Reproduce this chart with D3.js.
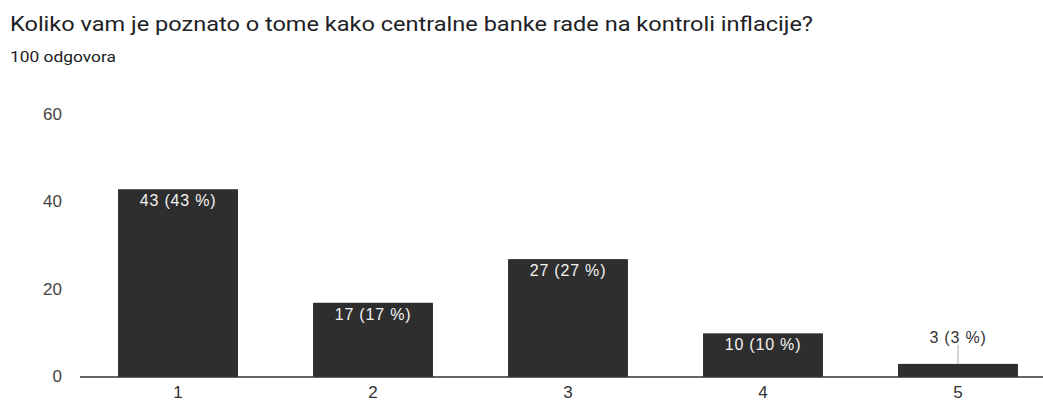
<html lang="hr">
<head>
    <meta charset="UTF-8">
    <title>Koliko vam je poznato</title>
    <script src="https://d3js.org/d3.v7.min.js"></script>
    <style>
        body { margin: 0; background: #fff; }
        svg { display: block; }
    </style>
</head>
<body>
    <script>
        // Chart data
        const categories = ["1", "2", "3", "4", "5"];
        const counts = [43, 17, 27, 10, 3];
        const percents = [43, 17, 27, 10, 3];
        const yTicks = [0, 20, 40, 60];

        const w = 1043;
        const h = 405;
        const labelFont = "'Liberation Sans', Arial, sans-serif";

        const svg = d3.select("body")
                      .append("svg")
                      .attr("width", w)
                      .attr("height", h);

        // Title & subtitle (the source picture is a little stretched horizontally)
        svg.append("text")
           .attr("x", 10)
           .attr("y", 31)
           .attr("font-family", "Roboto, sans-serif")
           .attr("font-size", 21)
           .attr("fill", "#202124")
           .attr("textLength", 803)
           .attr("lengthAdjust", "spacingAndGlyphs")
           .text("Koliko vam je poznato o tome kako centralne banke rade na kontroli inflacije?");

        svg.append("text")
           .attr("x", 10)
           .attr("y", 62)
           .attr("font-family", "Roboto, sans-serif")
           .attr("font-size", 15)
           .attr("fill", "#202124")
           .attr("textLength", 106)
           .attr("lengthAdjust", "spacingAndGlyphs")
           .text("100 odgovora");

        // Scales
        const xScale = d3.scaleBand()
            .domain(categories)
            .range([43, 1093])
            .padding(0.385);

        const yScale = d3.scaleLinear()
            .domain([0, 60])
            .range([377, 115]);

        // Y tick labels (no line)
        const yAxis = d3.axisLeft(yScale).tickValues(yTicks).tickSize(0).tickPadding(0);
        const gy = svg.append("g")
            .attr("transform", "translate(62, -1)")
            .call(yAxis);
        gy.select(".domain").remove();
        gy.selectAll("text")
          .attr("font-family", labelFont)
          .attr("font-size", 17)
          .attr("fill", "#444");

        // Bars
        svg.selectAll("rect.bar")
           .data(counts)
           .enter()
           .append("rect")
           .attr("class", "bar")
           .attr("x", (d, i) => xScale(categories[i]))
           .attr("y", d => yScale(d))
           .attr("width", xScale.bandwidth())
           .attr("height", d => yScale(0) - yScale(d))
           .attr("fill", "#2e2e2e");

        // Baseline
        svg.append("line")
           .attr("x1", 80)
           .attr("x2", w)
           .attr("y1", yScale(0))
           .attr("y2", yScale(0))
           .attr("stroke", "#333")
           .attr("stroke-width", 1.5);

        // X axis labels
        const xAxis = d3.axisBottom(xScale).tickSize(0).tickPadding(0);
        const gx = svg.append("g")
            .attr("transform", `translate(0, ${yScale(0) + 9})`)
            .call(xAxis);
        gx.select(".domain").remove();
        gx.selectAll("text")
          .attr("font-family", labelFont)
          .attr("font-size", 17)
          .attr("fill", "#333");

        // Value labels: inside bar if tall enough, otherwise above with leader line
        counts.forEach((d, i) => {
            const cx = xScale(categories[i]) + xScale.bandwidth() / 2;
            const top = yScale(d);
            const label = `${d} (${percents[i]} %)`;
            const inside = yScale(0) - top > 25;
            if (inside) {
                svg.append("text")
                   .attr("x", cx)
                   .attr("y", top + 17)
                   .attr("text-anchor", "middle")
                   .attr("font-family", labelFont)
                   .attr("font-size", 16)
                   .attr("letter-spacing", 0.8)
                   .attr("fill", "#f4f4f4")
                   .text(label);
            } else {
                svg.append("line")
                   .attr("x1", cx)
                   .attr("x2", cx)
                   .attr("y1", top)
                   .attr("y2", top - 19)
                   .attr("stroke", "#aaa")
                   .attr("stroke-width", 1);
                svg.append("text")
                   .attr("x", cx)
                   .attr("y", top - 21)
                   .attr("text-anchor", "middle")
                   .attr("font-family", labelFont)
                   .attr("font-size", 16)
                   .attr("letter-spacing", 0.8)
                   .attr("fill", "#333")
                   .text(label);
            }
        });
    </script>
</body>
</html>
